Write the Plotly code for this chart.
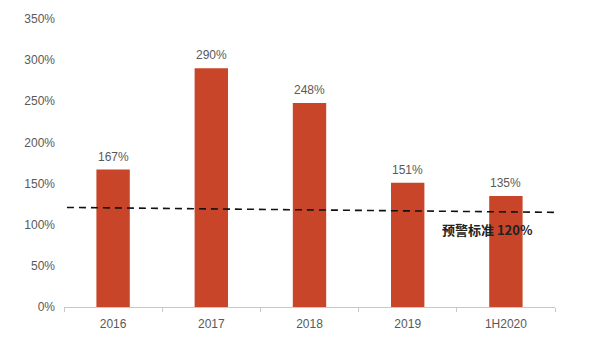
import plotly.graph_objects as go

categories = ["2016", "2017", "2018", "2019", "1H2020"]
values = [167, 290, 248, 151, 135]
labels = [f"{v}%" for v in values]
threshold_x = [0.006, 1.0]        # paper fraction along x
threshold_y = [121, 115]           # dashed line level as drawn
threshold_label = "预警标准 120%"
y_ticks = [0, 50, 100, 150, 200, 250, 300, 350]

GRAY = "#595959"
fig = go.Figure()
fig.add_trace(go.Bar(
    x=categories, y=values,
    marker=dict(color="#C8452A", line=dict(width=0)),
    width=0.34,
))
for i, (v, t) in enumerate(zip(values, labels)):
    fig.add_annotation(x=i, y=v, xref="x", yref="y", text=t, showarrow=False,
                       yanchor="bottom", yshift=4,
                       font=dict(family="Liberation Sans, Arial", size=12, color=GRAY))
fig.add_shape(type="line", xref="paper", yref="y",
              x0=threshold_x[0], x1=threshold_x[1],
              y0=threshold_y[0], y1=threshold_y[1],
              line=dict(color="#111111", width=1.6, dash="7px,5px"))
fig.add_annotation(x=len(categories) - 1, y=94, xref="x", yref="y",
                   text="<b>" + threshold_label + "</b>",
                   showarrow=False, font=dict(family="Noto Sans CJK SC", size=13, color="#222222"),
                   xshift=-18)
fig.update_layout(
    width=600, height=352,
    margin=dict(l=64, r=45, t=14, b=45),
    plot_bgcolor="white", paper_bgcolor="white",
    showlegend=False, bargap=0.66,
    font=dict(family="Liberation Sans, Arial", size=12, color=GRAY),
)
fig.update_xaxes(type="category", showline=True, linecolor="#C8C8C8", linewidth=1,
                 ticks="outside", tickson="boundaries", ticklen=4, tickcolor="#C8C8C8",
                 showgrid=False, tickfont=dict(size=12, color=GRAY), ticklabelstandoff=6)
fig.update_yaxes(range=[0, 350], tickvals=y_ticks, ticktext=[f"{t}%" for t in y_ticks],
                 showgrid=False, zeroline=False, showline=False,
                 tickfont=dict(size=12, color=GRAY), ticks="", ticklabelstandoff=8)
fig.write_html("out.html")
